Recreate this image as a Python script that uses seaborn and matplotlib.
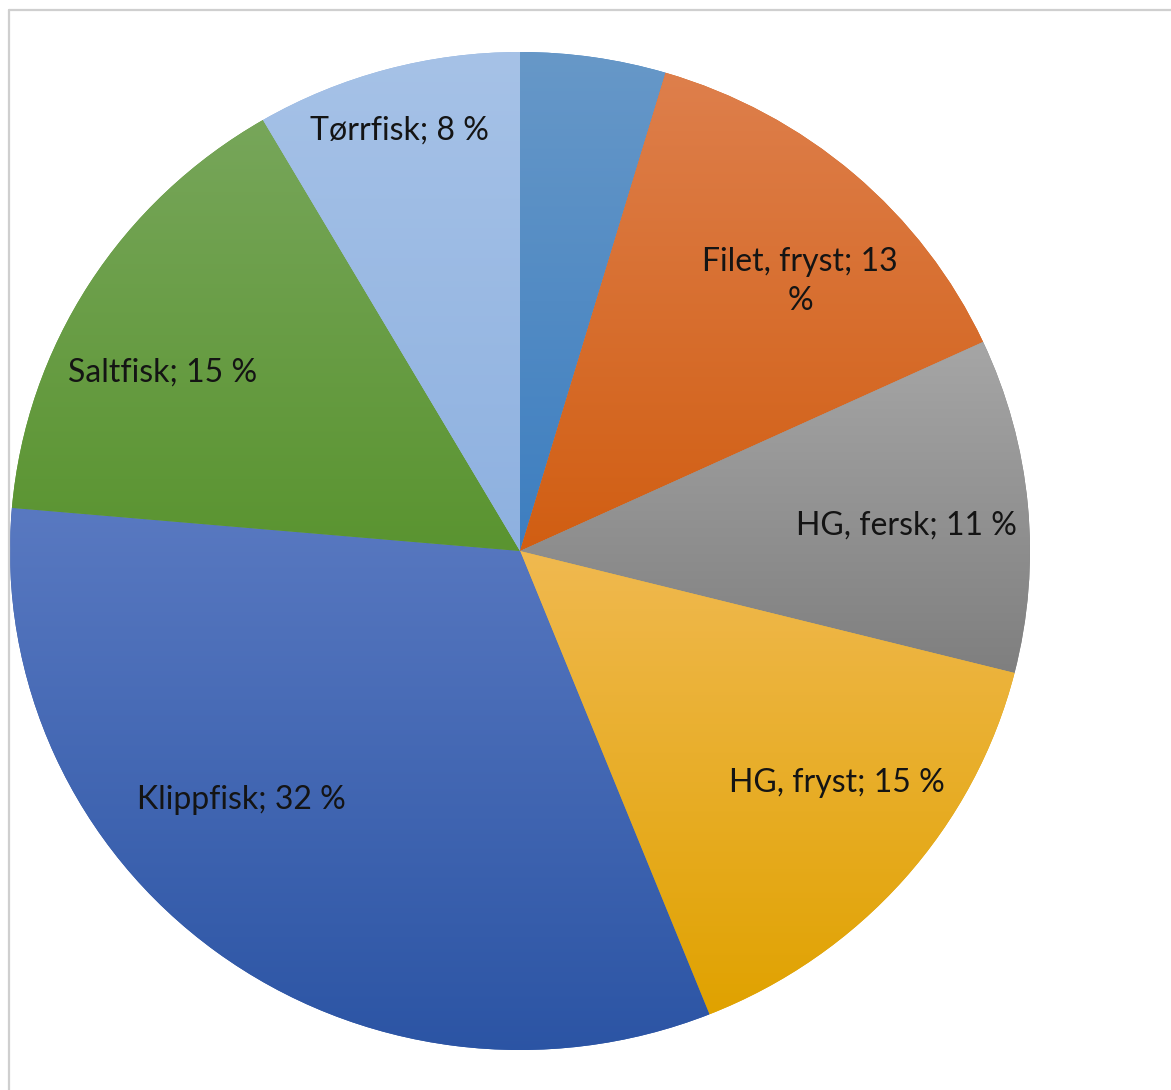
import numpy as np
import seaborn as sns
import matplotlib
matplotlib.use('Agg')
import matplotlib.pyplot as plt
from matplotlib.colors import to_rgb
from matplotlib.lines import Line2D

# data (share of each product, percent)
products = ['', 'Filet, fryst', 'HG, fersk', 'HG, fryst', 'Klippfisk', 'Saltfisk', 'Tørrfisk']
shares = [4.6, 13.5, 10.8, 15.0, 32.4, 15.2, 8.4]
shown_pct = [5, 13, 11, 15, 32, 15, 8]

# gradient colours, top -> bottom of each slice
top_colors = ['#6798c8', '#de7f4c', '#a6a6a6', '#f0b950', '#5979c1', '#77a65a', '#a6c2e7']
bottom_colors = ['#3d7ec0', '#d15e12', '#7f7f7f', '#e0a200', '#2b54a4', '#5a9430', '#8eb1e0']
# label placement: distance from centre and shift (deg, clockwise) from slice middle
label_dist = [0.77, 0.77, 0.76, 0.775, 0.74, 0.786, 0.876]
label_shift = [0, 4.6, 1.4, -4.4, 11.0, -5.3, -0.5]

sns.set_theme(style='white')
plt.rcParams['font.family'] = ['Lato', 'DejaVu Sans']


def make_label(name, pct):
    if not name:
        return ''
    if name == 'Filet, fryst':
        return '{}; {}\n%'.format(name, pct)
    return '{}; {} %'.format(name, pct)


labels = [make_label(n, p) for n, p in zip(products, shown_pct)]

W, H = 1171, 1090
fig = plt.figure(figsize=(W / 100, H / 100), dpi=100)
fig.patch.set_facecolor('white')
# pie box in pixels: x 10..1030, y 52..1050
ax = fig.add_axes([10 / W, (H - 1050) / H, 1020 / W, 998 / H])

wedges, texts = ax.pie(shares, labels=labels, startangle=90, counterclock=False,
                       colors=bottom_colors, labeldistance=1.0,
                       wedgeprops=dict(linewidth=0),
                       textprops=dict(fontsize=23, color='#141414'))
ax.set_aspect('auto')
ax.axis('off')

for w, c_top, c_bot in zip(wedges, top_colors, bottom_colors):
    verts = w.get_path().vertices
    ymin, ymax = verts[:, 1].min(), verts[:, 1].max()
    t = np.linspace(0, 1, 256)[:, None]
    grad = (1 - t) * np.array(to_rgb(c_top)) + t * np.array(to_rgb(c_bot))
    img = ax.imshow(grad[:, None, :], extent=(-1.01, 1.01, ymin, ymax),
                    aspect='auto', origin='upper', zorder=w.get_zorder() + 0.1,
                    interpolation='bilinear')
    img.set_clip_path(w)

ax.set_xlim(-1, 1)
ax.set_ylim(-1, 1)

for txt, w, d, s in zip(texts, wedges, label_dist, label_shift):
    ang = np.deg2rad((w.theta1 + w.theta2) / 2 - s)
    txt.set_position((d * np.cos(ang), d * np.sin(ang)))
    txt.set_ha('center')
    txt.set_va('center')
    txt.set_multialignment('center')
    txt.set_linespacing(1.4)
    txt.set_zorder(10)

# thin grey frame at top and left
fig.add_artist(Line2D([8.5 / W, 8.5 / W], [0, 1 - 9.5 / H], transform=fig.transFigure,
                      color='#cfcfcf', linewidth=1.6))
fig.add_artist(Line2D([8.5 / W, 1], [1 - 9.5 / H, 1 - 9.5 / H], transform=fig.transFigure,
                      color='#cfcfcf', linewidth=1.6))

fig.savefig('out.png', dpi=100, facecolor='white')
